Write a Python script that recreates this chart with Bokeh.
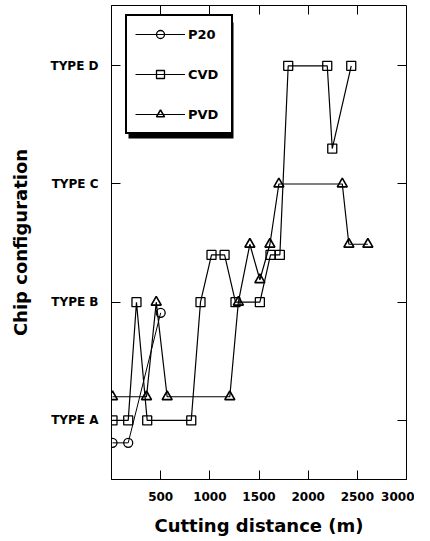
from bokeh.plotting import figure
from bokeh.models import (LinearAxis, FixedTicker, Range1d, Legend, LegendItem,
                          BoxAnnotation, CustomJSTickFormatter)
from bokeh.embed import file_html
from bokeh.resources import INLINE

# ---- data ----
x_ticks = [500, 1000, 1500, 2000, 2500, 3000]
y_ticks = [1, 2, 3, 4]
y_tick_labels = ["TYPE A", "TYPE B", "TYPE C", "TYPE D"]

p20_x = [10, 170, 500]
p20_y = [0.81, 0.81, 1.91]

cvd_x = [10, 170, 254, 363, 811, 905, 1017, 1150, 1261, 1509, 1617, 1712,
         1797, 2194, 2245, 2438]
cvd_y = [1.0, 1.0, 2.0, 1.0, 1.0, 2.0, 2.4, 2.4, 2.0, 2.0, 2.4, 2.4,
         4.0, 4.0, 3.3, 4.0]

pvd_x = [10, 356, 455, 566, 1203, 1290, 1407, 1509, 1611, 1702, 2347, 2414, 2607]
pvd_y = [1.2, 1.2, 2.0, 1.2, 1.2, 2.0, 2.49, 2.19, 2.49, 3.0, 3.0, 2.49, 2.49]

FONT = "DejaVu Sans"

p = figure(width=414, height=538, x_range=Range1d(0, 3000),
           y_range=Range1d(0.5, 4.51), output_backend="svg",
           toolbar_location=None, min_border_left=111, min_border_right=8,
           min_border_top=5, min_border_bottom=59)
p.grid.visible = False
p.outline_line_color = "black"
p.outline_line_width = 1
p.outline_line_alpha = 1
p.background_fill_color = "white"

for ax in (p.xaxis[0], p.yaxis[0]):
    ax.axis_line_color = "black"
    ax.major_tick_in = 9
    ax.major_tick_out = 0
    ax.minor_tick_line_color = None
    ax.major_label_text_font = FONT
    ax.major_label_text_font_style = "bold"
    ax.axis_label_text_font = FONT
    ax.axis_label_text_font_style = "bold"
    ax.axis_label_text_font_size = "18px"
    ax.major_label_text_color = "black"
    ax.axis_label_text_color = "black"

p.xaxis.ticker = FixedTicker(ticks=x_ticks)
p.xaxis.major_label_text_font_size = "12px"
p.xaxis.major_label_standoff = 12
p.xaxis.axis_label = "Cutting distance (m)"
p.xaxis.axis_label_standoff = 11

p.yaxis.ticker = FixedTicker(ticks=y_ticks)
p.yaxis.major_label_overrides = {t: l for t, l in zip(y_ticks, y_tick_labels)}
p.yaxis.major_label_text_font_size = "12px"
p.yaxis.major_label_standoff = 13
p.yaxis.axis_label = "Chip configuration"
p.yaxis.axis_label_standoff = 16

blank = CustomJSTickFormatter(code="return ''")
top = LinearAxis(ticker=FixedTicker(ticks=x_ticks[:-1]), major_tick_in=9,
                 major_tick_out=0, minor_tick_line_color=None,
                 axis_line_color=None, formatter=blank,
                 major_label_standoff=0)
p.add_layout(top, "above")
right = LinearAxis(ticker=FixedTicker(ticks=y_ticks), major_tick_in=9,
                   major_tick_out=0, minor_tick_line_color=None,
                   axis_line_color=None, formatter=blank,
                   major_label_standoff=0)
p.add_layout(right, "right")

l1 = p.line(p20_x, p20_y, line_color="black", line_width=1)
s1 = p.scatter(p20_x, p20_y, marker="circle", size=9, fill_color=None,
               line_color="black", line_width=1.3)
l2 = p.line(cvd_x, cvd_y, line_color="black", line_width=1.2)
s2 = p.scatter(cvd_x, cvd_y, marker="square", size=9, fill_color=None,
               line_color="black", line_width=1.3)
l3 = p.line(pvd_x, pvd_y, line_color="black", line_width=1.2)
s3 = p.scatter(pvd_x, pvd_y, marker="triangle", size=10, fill_color=None,
               line_color="black", line_width=1.6)

shadow = BoxAnnotation(left=17, right=122, bottom=341, top=457,
                       left_units="screen", right_units="screen",
                       bottom_units="screen", top_units="screen",
                       fill_color="black", fill_alpha=1, line_color=None)
p.add_layout(shadow)

legend = Legend(items=[LegendItem(label="P20", renderers=[l1, s1]),
                       LegendItem(label="CVD", renderers=[l2, s2]),
                       LegendItem(label="PVD", renderers=[l3, s3])],
                location=(14, 345), border_line_color="black",
                border_line_width=2, border_line_alpha=1,
                background_fill_color="white",
                background_fill_alpha=1, padding=8, spacing=20,
                glyph_width=50, glyph_height=20, label_height=20,
                label_standoff=3, label_width=35, margin=0,
                label_text_font=FONT, label_text_font_style="bold",
                label_text_font_size="13px", label_text_color="black")
p.add_layout(legend, "center")

open("out.html", "w").write(file_html(p, INLINE))
